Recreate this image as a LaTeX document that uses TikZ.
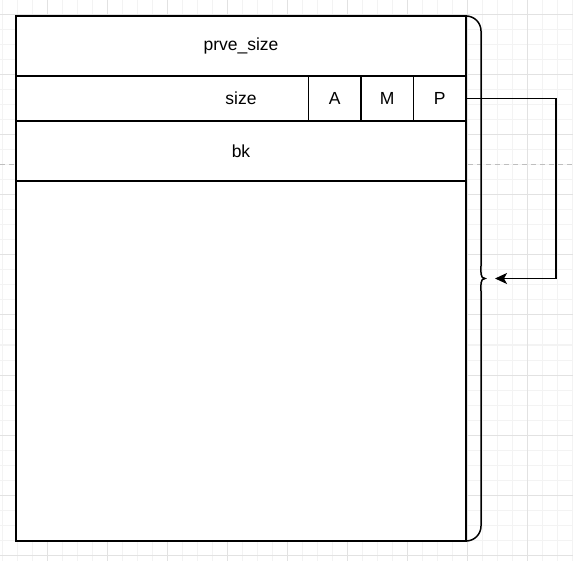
\documentclass[tikz,border=0pt]{standalone}
\usepackage{fontspec}
\setmainfont{Liberation Sans}
\usetikzlibrary{arrows.meta, positioning}
\definecolor{gridMinor}{RGB}{243,243,243}
\definecolor{gridMajor}{RGB}{226,226,226}
\definecolor{dashGrey}{RGB}{190,190,190}

\begin{document}
\begin{tikzpicture}[x=1pt, y=-1pt,
    row/.style={draw, line width=1.5pt, fill=white, minimum width=450pt,
      inner sep=0pt, outer sep=0pt, font=\fontsize{17.5}{21}\selectfont},
    flag/.style={row, minimum width=52.5pt, minimum height=45pt},
    brace/.style={line width=1.5pt, line cap=round},
    link/.style={line width=1.5pt, -{Stealth[length=12pt, width=11pt, inset=3pt]}}]
  \useasboundingbox (0,0) rectangle (573,561);

  % background grid
  \foreach \x in {2,17,...,572} \draw[gridMinor, line width=1pt] (\x,0) -- (\x,561);
  \foreach \y in {0,15,...,560} \draw[gridMinor, line width=1pt] (0,\y) -- (573,\y);
  \foreach \x in {47,107,...,572} \draw[gridMajor, line width=1pt] (\x,0) -- (\x,561);
  \foreach \y in {15,75,...,560} \draw[gridMajor, line width=1pt] (0,\y) -- (573,\y);

  % dashed guide
  \draw[dashGrey, line width=1pt, dash pattern=on 5pt off 4pt] (0,165) -- (573,165);

  % chunk rows
  \node[row, minimum height=60pt] (prvesize) at (241,46) {prve\_size};
  \node[row, minimum height=45pt, below=0pt of prvesize] (size) {size};
  \node[row, minimum height=60pt, below=0pt of size] (bk) {bk};
  \node[row, minimum height=360pt, below=0pt of bk] (body) {};

  % flag bits
  \node[flag, anchor=north east] (P) at (size.north east) {P};
  \node[flag, left=0pt of P] (M) {M};
  \node[flag, left=0pt of M] (A) {A};

  % brace over the whole chunk
  \coordinate (bracetip) at (485,278.5);
  \coordinate (braceend) at (495,278.5);
  \draw[brace] (prvesize.north east) to[out=0, in=90] (481,31) -- (481,266)
    to[out=-90, in=180] (bracetip) to[out=180, in=90] (481,291) -- (481,526)
    to[out=-90, in=0] (body.south east);

  % P points to the chunk
  \draw[link] (P.east) -- ++(90,0) |- (braceend);
\end{tikzpicture}
\end{document}
